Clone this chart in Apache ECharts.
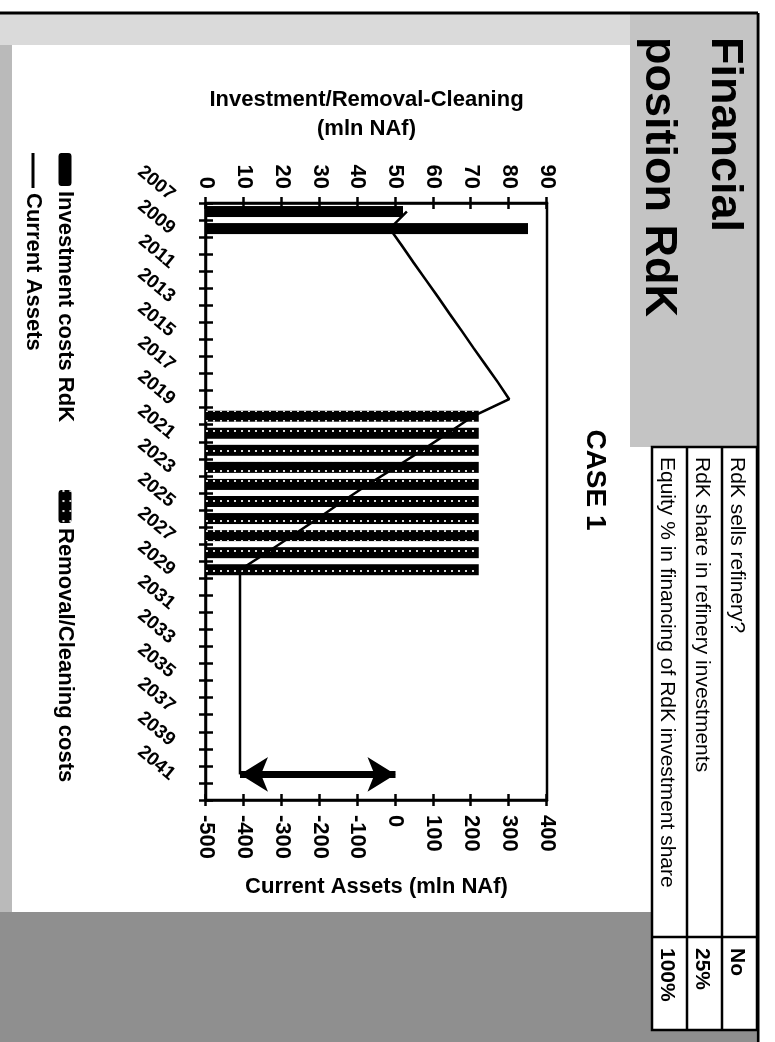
<!DOCTYPE html>
<html>
<head>
<meta charset="utf-8">
<script src="https://cdn.jsdelivr.net/npm/echarts@6/dist/echarts.min.js"></script>
<style>
  html, body { margin: 0; padding: 0; width: 775px; height: 1042px; overflow: hidden; background: #fff; }
  /* the slide is laid out in landscape and turned a quarter clockwise onto the page */
  #slide { position: absolute; left: 775px; top: 0; width: 1042px; height: 775px;
           transform-origin: 0 0; transform: rotate(90deg); }
</style>
</head>
<body>
<div id="slide"></div>
<script>
// ---- data (mln NAf) ----
const years = ['2007','2008','2009','2010','2011','2012','2013','2014','2015','2016',
               '2017','2018','2019','2020','2021','2022','2023','2024','2025','2026',
               '2027','2028','2029','2030','2031','2032','2033','2034','2035','2036',
               '2037','2038','2039','2040','2041'];

const investmentCosts = [52, 85, null, null, null, null, null, null, null, null,
                         null, null, null, null, null, null, null, null, null, null,
                         null, null, null, null, null, null, null, null, null, null,
                         null, null, null, null, null];

const removalCosts = [null, null, null, null, null, null, null, null, null, null,
                      null, null, 72, 72, 72, 72, 72, 72, 72, 72,
                      72, 72, null, null, null, null, null, null, null, null,
                      null, null, null, null, null];

const currentAssets = [30, -15, 17, 48, 80, 112, 143, 175, 206, 238,
                       270, 300, 205, 138, 70, 0, -72, -140, -205, -272,
                       -340, -410, -410, -410, -410, -410, -410, -410, -410, -410,
                       -410, -410, -410, -410, null];

const costAxis = { min: 0, max: 90, interval: 10 };
const assetAxis = { min: -500, max: 400, interval: 100 };

// deficit arrow drawn at the last year of the assets line
const arrowYear = '2040';

const titleLines = ['Financial', 'position RdK'];
const caseLabel = 'CASE 1';
const scenarioRows = [
  ['RdK sells refinery?', 'No'],
  ['RdK share in refinery investments', '25%'],
  ['Equity % in financing of RdK investment share', '100%']
];

// ---- drawing ----
const FONT = '"Liberation Sans", Arial, Helvetica, sans-serif';
const chart = echarts.init(document.getElementById('slide'), null, { renderer: 'canvas', width: 1042, height: 775 });

const arrowIdx = years.indexOf(arrowYear);

const tableX = 447, tableY = 18, tableW = 583, rowH = 35, valueColX = 937;
const graphics = [
  // slide background bands
  { type: 'rect', z: -10, shape: { x: 14, y: 19, width: 433, height: 126 }, style: { fill: '#c4c4c4' } },
  { type: 'rect', z: -10, shape: { x: 14, y: 145, width: 31, height: 630 }, style: { fill: '#dadada' } },
  { type: 'rect', z: -10, shape: { x: 45, y: 763, width: 867, height: 12 }, style: { fill: '#bababa' } },
  { type: 'rect', z: -10, shape: { x: 912, y: 19, width: 130, height: 756 }, style: { fill: '#8f8f8f' } },
  // slide border
  { type: 'line', shape: { x1: 13, y1: 17, x2: 13, y2: 775 }, style: { stroke: '#000', lineWidth: 3 } },
  { type: 'line', shape: { x1: 13, y1: 17, x2: 1042, y2: 17 }, style: { stroke: '#000', lineWidth: 3 } },
  // scenario table
  { type: 'rect', shape: { x: tableX, y: tableY, width: tableW, height: rowH * 3 },
    style: { fill: '#fff', stroke: '#000', lineWidth: 2.5 } },
  { type: 'line', shape: { x1: valueColX, y1: tableY, x2: valueColX, y2: tableY + rowH * 3 },
    style: { stroke: '#000', lineWidth: 2.5 } },
  // title
  { type: 'text', style: { text: titleLines[0], x: 37, y: 51, fill: '#000', fontSize: 45, fontWeight: 'bold',
    fontFamily: FONT, textAlign: 'left', textVerticalAlign: 'middle' } },
  { type: 'text', style: { text: titleLines[1], x: 37, y: 117, fill: '#000', fontSize: 45, fontWeight: 'bold',
    fontFamily: FONT, textAlign: 'left', textVerticalAlign: 'middle' } },
  { type: 'text', style: { text: caseLabel, x: 480, y: 180, fill: '#000', fontSize: 28, fontWeight: 'bold',
    fontFamily: FONT, textAlign: 'center', textVerticalAlign: 'middle' } }
];
scenarioRows.forEach((row, i) => {
  if (i > 0) {
    graphics.push({ type: 'line', shape: { x1: tableX, y1: tableY + rowH * i, x2: tableX + tableW, y2: tableY + rowH * i },
      style: { stroke: '#000', lineWidth: 2.5 } });
  }
  const cy = tableY + rowH * i + rowH / 2 + 3;
  graphics.push({ type: 'text', style: { text: row[0], x: tableX + 10, y: cy, fill: '#000', fontSize: 21,
    fontFamily: FONT, textAlign: 'left', textVerticalAlign: 'middle' } });
  graphics.push({ type: 'text', style: { text: row[1], x: valueColX + 11, y: cy, fill: '#000', fontSize: 21,
    fontWeight: 'bold', fontFamily: FONT, textAlign: 'left', textVerticalAlign: 'middle' } });
});

const labelFont = { color: '#000', fontFamily: FONT, fontWeight: 'bold' };
const axisLine = { show: true, onZero: false, lineStyle: { color: '#000', width: 2.5 } };
const legendText = { color: '#000', fontFamily: FONT, fontWeight: 'bold', fontSize: 22 };

chart.setOption({
  animation: false,
  backgroundColor: '#fff',
  graphic: graphics,
  grid: {
    left: 203, right: 242, top: 228, bottom: 206,
    show: true, borderColor: '#000', borderWidth: 2.5, backgroundColor: 'transparent',
    outerBoundsMode: 'none'
  },
  legend: [
    { data: ['Investment costs RdK'], left: 153, top: 699, padding: 0, itemWidth: 33, itemHeight: 13,
      textStyle: legendText, selectedMode: false },
    { data: ['Removal/Cleaning costs'], left: 490, top: 699, padding: 0, itemWidth: 33, itemHeight: 13,
      textStyle: legendText, selectedMode: false },
    { data: [{ name: 'Current Assets', icon: 'rect' }], left: 153, top: 731, padding: 0,
      itemWidth: 35, itemHeight: 3, textStyle: legendText, selectedMode: false }
  ],
  xAxis: [
    {
      type: 'category', data: years, boundaryGap: true, position: 'bottom',
      axisLine: axisLine,
      axisTick: { show: true, interval: 0, length: 7, lineStyle: { color: '#000', width: 2.5 } },
      axisLabel: { ...labelFont, fontSize: 19, interval: 1, rotate: 50, margin: 16, padding: [0, 23, 0, 0] },
      splitLine: { show: false }
    },
    {
      // inner half of the crossing ticks
      type: 'category', data: years, boundaryGap: true, position: 'bottom',
      axisLine: { show: false, onZero: false },
      axisTick: { show: true, inside: true, interval: 0, length: 7, lineStyle: { color: '#000', width: 2.5 } },
      axisLabel: { show: false }, splitLine: { show: false }
    }
  ],
  yAxis: [
    {
      type: 'value', position: 'left', ...costAxis,
      name: 'Investment/Removal-Cleaning\n(mln NAf)', nameLocation: 'middle', nameRotate: 90, nameGap: 60,
      nameTextStyle: { ...labelFont, fontSize: 22, lineHeight: 29, padding: [0, 20, 0, 0] },
      axisLine: axisLine,
      axisTick: { show: true, length: 6, lineStyle: { color: '#000', width: 2.5 } },
      axisLabel: { ...labelFont, fontSize: 22, margin: 14 },
      splitLine: { show: false }
    },
    {
      type: 'value', position: 'right', ...assetAxis,
      name: 'Current Assets (mln NAf)', nameLocation: 'middle', nameRotate: 90, nameGap: 76,
      nameTextStyle: { ...labelFont, fontSize: 22 },
      axisLine: axisLine,
      axisTick: { show: true, length: 6, lineStyle: { color: '#000', width: 2.5 } },
      axisLabel: { ...labelFont, fontSize: 22, margin: 15 },
      splitLine: { show: false }
    },
    {
      type: 'value', position: 'left', ...costAxis,
      axisLine: { show: false, onZero: false }, axisLabel: { show: false }, splitLine: { show: false },
      axisTick: { show: true, inside: true, length: 6, lineStyle: { color: '#000', width: 2.5 } }
    },
    {
      type: 'value', position: 'right', ...assetAxis,
      axisLine: { show: false, onZero: false }, axisLabel: { show: false }, splitLine: { show: false },
      axisTick: { show: true, inside: true, length: 6, lineStyle: { color: '#000', width: 2.5 } }
    }
  ],
  series: [
    {
      name: 'Investment costs RdK', type: 'bar', data: investmentCosts, yAxisIndex: 0,
      stack: 'costs', barWidth: 11,
      itemStyle: { color: '#000' }
    },
    {
      name: 'Removal/Cleaning costs', type: 'bar', data: removalCosts, yAxisIndex: 0,
      stack: 'costs', barWidth: 11,
      itemStyle: {
        color: '#000',
        decal: { symbol: 'rect', symbolSize: 1, color: 'rgba(255,255,255,0.85)',
                 dashArrayX: [2, 8], dashArrayY: [2, 5], rotation: 0 }
      }
    },
    {
      name: 'Current Assets', type: 'line', data: currentAssets, yAxisIndex: 1,
      symbol: 'none', showSymbol: false, z: 4,
      lineStyle: { color: '#000', width: 2.5 },
      itemStyle: { color: '#000' },
      markLine: {
        silent: true, symbol: ['arrow', 'arrow'], symbolSize: [26, 28],
        lineStyle: { color: '#000', width: 7, type: 'solid' },
        label: { show: false },
        data: [[
          { coord: [arrowYear, currentAssets[arrowIdx]] },
          { coord: [arrowYear, 0] }
        ]]
      }
    }
  ]
});
</script>
</body>
</html>
